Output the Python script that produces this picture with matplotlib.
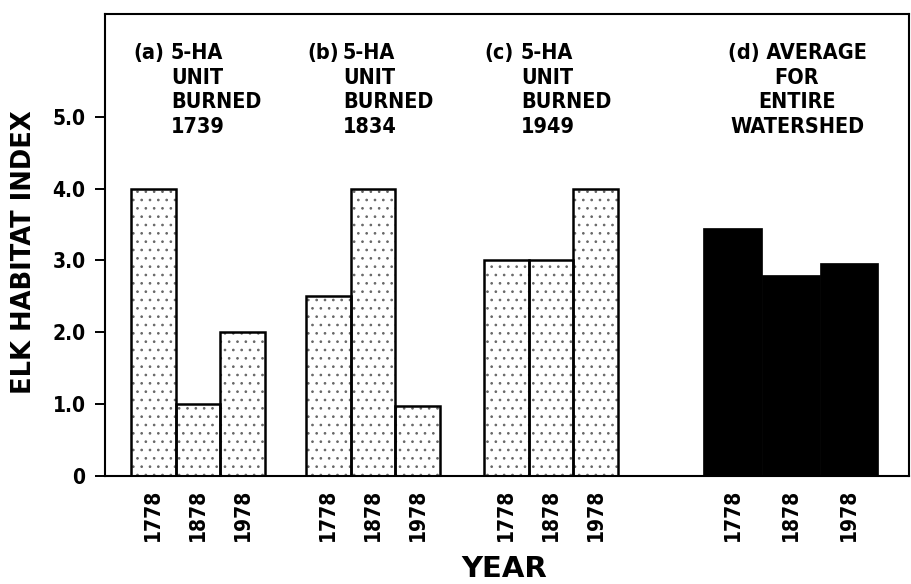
import matplotlib
matplotlib.use("Agg")
import matplotlib.pyplot as plt

# data
years = ['1778', '1878', '1978']
panel_labels = ['(a)', '(b)', '(c)', '(d)']
panel_texts = ['5-HA\nUNIT\nBURNED\n1739',
               '5-HA\nUNIT\nBURNED\n1834',
               '5-HA\nUNIT\nBURNED\n1949',
               'AVERAGE\nFOR\nENTIRE\nWATERSHED']
values_a = [4.0, 1.0, 2.0]
values_b = [2.5, 4.0, 0.97]
values_c = [3.0, 3.0, 4.0]
values_d = [3.45, 2.8, 2.97]
yticks = [0, 1.0, 2.0, 3.0, 4.0, 5.0]
ytick_labels = ['0', '1.0', '2.0', '3.0', '4.0', '5.0']

# layout (x axis in axes-pixel units)
group_start = [26, 201, 379, 598.5]
group_width = [44.7, 44.7, 44.7, 58.3]

plt.rcParams['hatch.linewidth'] = 0.7
font = dict(family='DejaVu Sans', weight='bold', stretch='condensed')

fig = plt.figure(figsize=(9.12, 5.84), dpi=100)
ax = fig.add_axes([105 / 912, 108 / 584, 804 / 912, 462 / 584])

tick_pos = []
tick_lab = []
for g, vals in enumerate([values_a, values_b, values_c, values_d]):
    w = group_width[g]
    xs = [group_start[g] + w * (i + 0.5) for i in range(len(vals))]
    if g < 3:
        # stipple layer, then outline
        ax.bar(xs, vals, width=w, facecolor='white', edgecolor='#666666',
               linewidth=0, hatch='..')
        ax.bar(xs, vals, width=w, facecolor='none', edgecolor='black',
               linewidth=1.8)
    else:
        ax.bar(xs, vals, width=w, facecolor='black', edgecolor='black',
               linewidth=0.5)
    tick_pos += xs
    tick_lab += years

ax.set_xlim(0, 804)
ax.set_ylim(0, 6.43)
ax.set_xticks(tick_pos)
ax.set_xticklabels(tick_lab, rotation=90, fontsize=15, **font)
ax.tick_params(axis='x', length=0, pad=9)
ax.set_yticks(yticks)
ax.set_yticklabels(ytick_labels, fontsize=15, **font)
ax.tick_params(axis='y', direction='out', length=7, width=1.4, pad=7)
for s in ax.spines.values():
    s.set_linewidth(1.5)

# panel annotations
lab_x = [28, 202, 379, 0]
txt_x = [66, 238, 416, 0]
top_y = 6.02
for g in range(3):
    ax.text(lab_x[g], top_y, panel_labels[g], fontsize=15.5, va='top', ha='left',
            **font)
    ax.text(txt_x[g], top_y, panel_texts[g], fontsize=15.5, va='top', ha='left',
            linespacing=1.28, **font)
d_lines = panel_texts[3].split('\n')
d_text = panel_labels[3] + ' ' + d_lines[0] + '\n' + '\n'.join(d_lines[1:])
ax.text(692, top_y, d_text, fontsize=15.5, va='top', ha='center',
        linespacing=1.28, **font)

fig.text(24 / 912, (584 - 252) / 584, 'ELK HABITAT INDEX', rotation=90,
         fontsize=18.5, ha='center', va='center', family='DejaVu Sans',
         weight='bold')
fig.text(504 / 912, (584 - 569) / 584, 'YEAR', fontsize=21, ha='center',
         va='center', family='DejaVu Sans', weight='bold')

fig.savefig('out.png', dpi=100)
